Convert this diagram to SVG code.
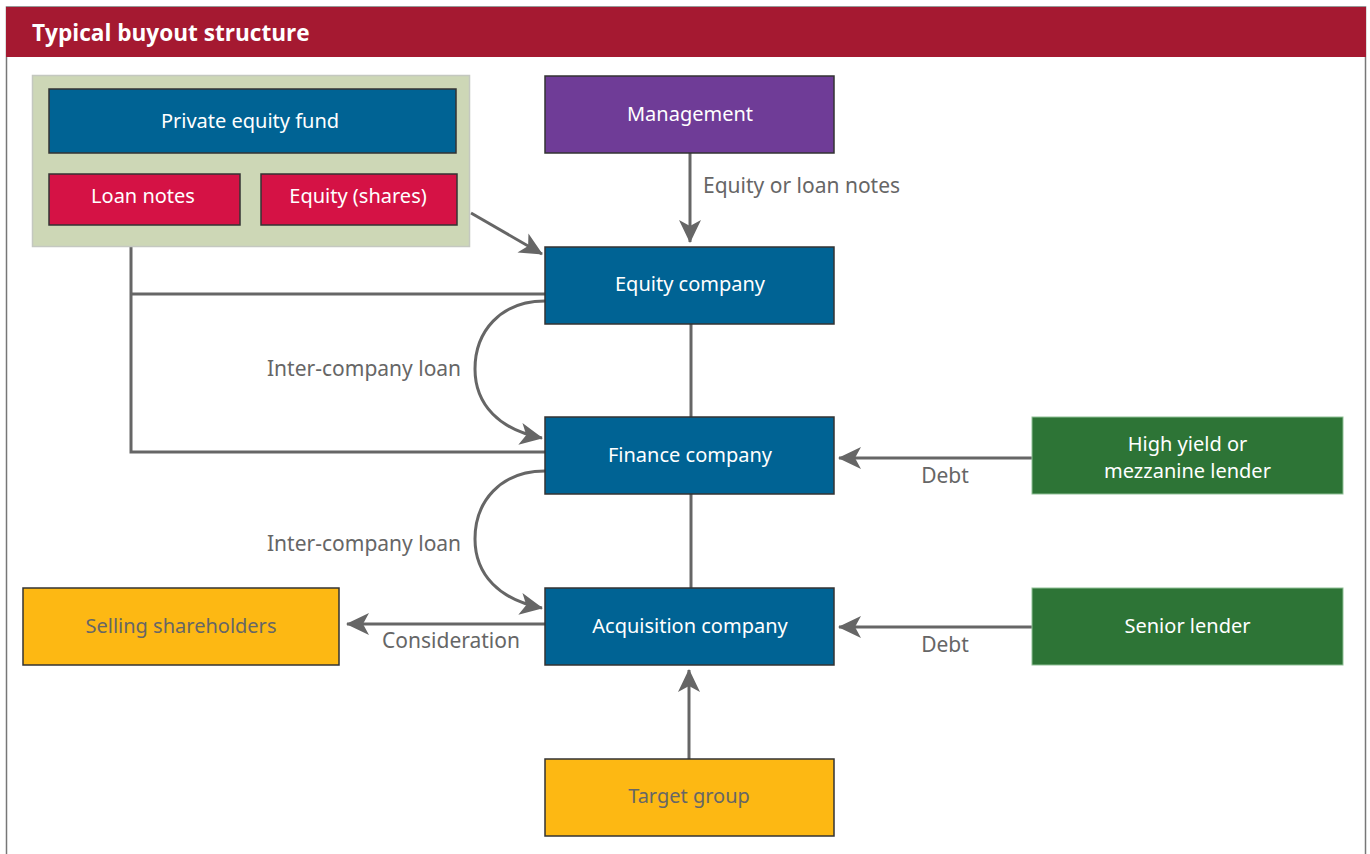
<svg xmlns="http://www.w3.org/2000/svg" width="1370" height="854" viewBox="0 0 1370 854">
<style>
text{font-family:"Noto Sans","Open Sans",sans-serif;font-size:20px}
.wt{fill:#ffffff}
.gt{fill:#666666}
.lbl{fill:#666666;font-size:21px}
.box{stroke:#333333;stroke-width:1.5}
.blue{fill:#006394}
.red{fill:#D51245}
.purple{fill:#6F3C97}
.yellow{fill:#FDB813}
.green{fill:#2D7436;stroke:#8fbf95;stroke-width:1}
.ln{fill:none;stroke:#666666;stroke-width:3}
.arr{marker-end:url(#ah)}
</style>
<defs>
<marker id="ah" markerUnits="userSpaceOnUse" markerWidth="24" markerHeight="24" viewBox="0 0 24 24" refX="22" refY="12" orient="auto">
<path d="M0,1 L23,12 L0,23 L6,12 Z" fill="#666666"/>
</marker>
</defs>
<rect x="0" y="0" width="1370" height="854" fill="#ffffff"/>
<rect x="6.5" y="7" width="1359" height="850" fill="none" stroke="#777777" stroke-width="1.5"/>
<g id="header">
<rect x="6" y="7" width="1360" height="50" fill="#A51931"/>
<text x="32" y="41" style="font-family:'Open Sans','Noto Sans',sans-serif;font-size:22.6px;font-weight:bold;fill:#ffffff">Typical buyout structure</text>
</g>
<g id="connectors">
<line class="ln arr" x1="690" y1="153" x2="690" y2="242"/>
<line class="ln arr" x1="471" y1="213" x2="542" y2="254"/>
<polyline class="ln" points="131,247 131,452 545,452"/>
<line class="ln" x1="131" y1="294" x2="545" y2="294"/>
<line class="ln" x1="691" y1="324" x2="691" y2="417"/>
<line class="ln" x1="691" y1="494" x2="691" y2="588"/>
<path class="ln arr" d="M545,301 C500,301 475,332 475,369 C475,405 500,430 542,438"/>
<path class="ln arr" d="M545,471 C500,471 475,502 475,539 C475,575 500,600 542,608"/>
<line class="ln arr" x1="1032" y1="458" x2="839" y2="458"/>
<line class="ln arr" x1="1032" y1="627" x2="839" y2="627"/>
<line class="ln arr" x1="545" y1="624" x2="347" y2="624"/>
<line class="ln arr" x1="689" y1="759" x2="689" y2="670"/>
<text class="lbl" x="703" y="193">Equity or loan notes</text>
<text class="lbl" x="267" y="376">Inter-company loan</text>
<text class="lbl" x="267" y="551">Inter-company loan</text>
<text class="lbl" x="945" y="483" text-anchor="middle">Debt</text>
<text class="lbl" x="945" y="652" text-anchor="middle">Debt</text>
<text class="lbl" x="451" y="648" text-anchor="middle">Consideration</text>
</g>
<g id="pe-group">
<rect x="32.5" y="75.5" width="437" height="171" fill="#CDD7B6" stroke="#c4c8c0" stroke-width="1.5"/>
</g>
<g id="pe-fund">
<rect class="box blue" x="49" y="89" width="407" height="64"/>
<text class="wt" x="250" y="128" text-anchor="middle">Private equity fund</text>
</g>
<g id="loan-notes">
<rect class="box red" x="49" y="174" width="191" height="51"/>
<text class="wt" x="143" y="203" text-anchor="middle">Loan notes</text>
</g>
<g id="equity-shares">
<rect class="box red" x="261" y="174" width="196" height="51"/>
<text class="wt" x="358" y="203" text-anchor="middle">Equity (shares)</text>
</g>
<g id="management">
<rect class="box purple" x="545" y="76" width="289" height="77"/>
<text class="wt" x="690" y="121" text-anchor="middle">Management</text>
</g>
<g id="equity-company">
<rect class="box blue" x="545" y="247" width="289" height="77"/>
<text class="wt" x="690" y="291" text-anchor="middle">Equity company</text>
</g>
<g id="finance-company">
<rect class="box blue" x="545" y="417" width="289" height="77"/>
<text class="wt" x="690" y="462" text-anchor="middle">Finance company</text>
</g>
<g id="acquisition-company">
<rect class="box blue" x="545" y="588" width="289" height="77"/>
<text class="wt" x="690" y="633" text-anchor="middle">Acquisition company</text>
</g>
<g id="target-group">
<rect class="box yellow" x="545" y="759" width="289" height="77"/>
<text class="gt" x="689" y="803" text-anchor="middle">Target group</text>
</g>
<g id="selling-shareholders">
<rect class="box yellow" x="23" y="588" width="316" height="77"/>
<text class="gt" x="181" y="633" text-anchor="middle">Selling shareholders</text>
</g>
<g id="high-yield-lender">
<rect class="green" x="1032" y="417" width="311" height="77"/>
<text class="wt" x="1187.5" y="451" text-anchor="middle">High yield or</text>
<text class="wt" x="1187.5" y="478" text-anchor="middle">mezzanine lender</text>
</g>
<g id="senior-lender">
<rect class="green" x="1032" y="588" width="311" height="77"/>
<text class="wt" x="1187.5" y="633" text-anchor="middle">Senior lender</text>
</g>
</svg>
